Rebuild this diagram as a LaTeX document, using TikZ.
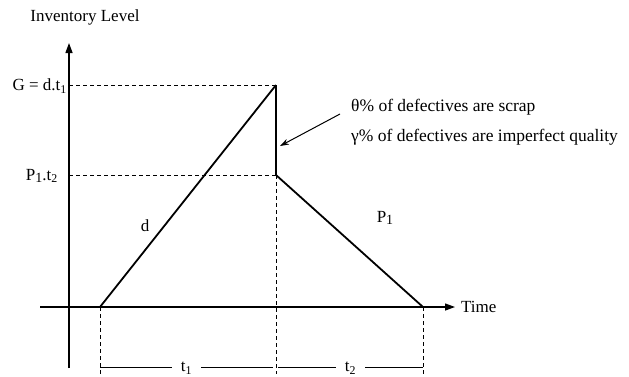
\documentclass[tikz,border=0pt]{standalone}
\usepackage{fontspec}
\setmainfont{Liberation Serif}
\usetikzlibrary{arrows.meta}
\newcommand{\lowone}[1]{\raisebox{-2.5pt}{\fontsize{14}{14}\selectfont #1}}
\begin{document}
\begin{tikzpicture}[x=1pt,y=-1pt,
  lbl/.style={font=\fontsize{17}{19}\selectfont, inner sep=0pt},
  note/.style={font=\fontsize{17.5}{19}\selectfont, inner sep=0pt},
  axis/.style={line width=1.3pt, -{Triangle[length=10pt,width=7pt]}},
  curve/.style={line width=1.8pt},
  guide/.style={dashed, line width=0.8pt, dash pattern=on 4pt off 3pt},
  dim/.style={line width=0.8pt}]
\useasboundingbox (0,0) rectangle (629,376);
% key points
\coordinate (O) at (100,307);
\coordinate (A) at (276,85);
\coordinate (B) at (276,175);
\coordinate (C) at (423,307);
\coordinate (GY) at (69,85);
\coordinate (PY) at (69,175);
\coordinate (Ob) at (100,374);
\coordinate (Ab) at (276,374);
\coordinate (Cb) at (423,374);
\coordinate (D1) at (100,367);
\coordinate (D1e) at (273,367);
\coordinate (D2b) at (278,367);
\coordinate (D3) at (423,367);
\coordinate (YS) at (69,368);
\coordinate (YE) at (69,43);
\coordinate (XS) at (40,307);
\coordinate (XE) at (455,307);
% axes
\draw[axis] (YS) -- (YE);
\draw[axis] (XS) -- (XE);
% guides
\draw[guide] (GY) -- (A);
\draw[guide] (PY) -- (B);
\draw[guide] (B) -- (Ab);
\draw[guide] (O) -- (Ob);
\draw[guide] (C) -- (Cb);
% inventory curve
\draw[curve] (O) -- (A);
\draw[line width=2.6pt] (A) -- (B);
\draw[curve] (B) -- (C);
% dimension lines
\draw[dim] (D1) -- (D1e) node[lbl, pos=0.5, fill=white, inner xsep=9pt, yshift=-1.5pt] (t1) {t\textsubscript{1}};
\draw[dim] (D2b) -- (D3) node[lbl, pos=0.5, fill=white, inner xsep=9pt, yshift=-1.5pt] (t2) {t\textsubscript{2}};
% labels
\node[lbl] (inv) at (85,17) {Inventory Level};
\node[lbl, anchor=east] (G) at (67,86) {G = d.t\textsubscript{1}};
\node[lbl, anchor=east] (P) at (58,176) {P\lowone{1}.t\textsubscript{2}};
\node[lbl] (d) at (145,226) {d};
\node[lbl] (p1) at (385,218) {P\lowone{1}};
\node[lbl, anchor=west] (time) at (461,307) {Time};
\node[note, anchor=west] (n1) at (351,107) {θ\% of defectives are scrap};
\node[note, anchor=west] (n2) at (351,137) {γ\% of defectives are imperfect quality};
\coordinate (arS) at (340,114);
\coordinate (arE) at (280,146);
\draw[line width=1pt, -{Stealth[length=9pt,width=6pt]}] (arS) -- (arE);
\end{tikzpicture}
\end{document}
